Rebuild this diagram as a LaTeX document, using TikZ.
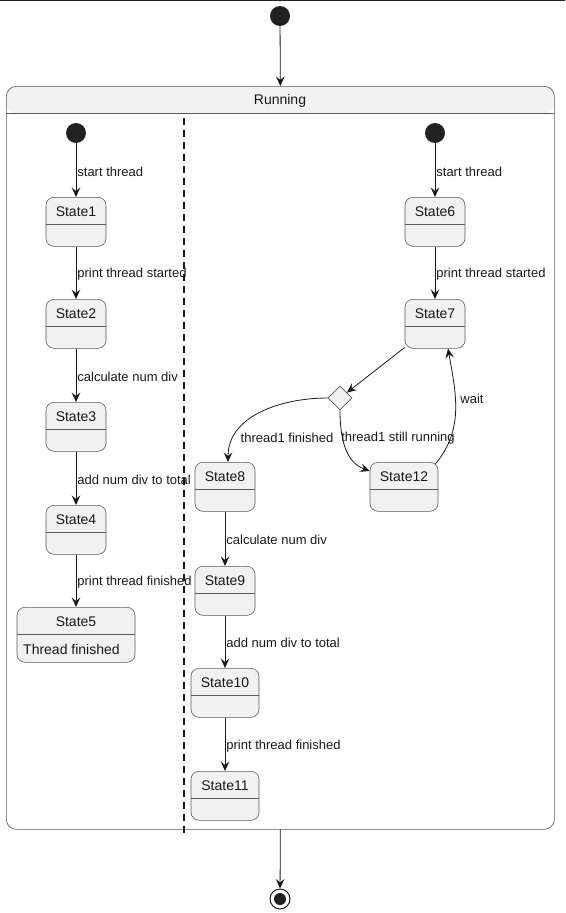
\documentclass[tikz,border=0pt]{standalone}
\usepackage{fontspec}
\setmainfont{Liberation Sans}
\usetikzlibrary{arrows.meta,shapes.geometric}
\definecolor{fillc}{HTML}{F1F1F1}
\definecolor{linec}{HTML}{181818}
\definecolor{boxc}{HTML}{5A5A5A}
\definecolor{dotc}{HTML}{222222}
\begin{document}
\begin{tikzpicture}[x=1pt,y=-1pt,
  statebox/.style={draw=boxc, fill=fillc, rounded corners=8pt, line width=0.6pt,
    minimum width=#1, inner xsep=0pt, inner ysep=4pt, text height=15pt, text depth=26pt,
    anchor=north, font=\fontsize{14}{16}\selectfont, text=linec,
    path picture={\draw[boxc,line width=0.6pt] ([yshift=-27pt]path picture bounding box.north west) -- ([yshift=-27pt]path picture bounding box.north east);}},
  startdot/.style={circle, fill=dotc, minimum size=20pt, inner sep=0pt},
  enddot/.style={circle, draw=linec, line width=1pt, fill=white, minimum size=20pt, inner sep=0pt,
    path picture={\fill[dotc] (path picture bounding box.center) circle (6pt);}},
  choice/.style={diamond, aspect=1, draw=boxc, fill=fillc, line width=0.6pt, minimum size=24pt, inner sep=0pt},
  trans/.style={draw=linec, line width=0.8pt, -{Stealth[length=9.5pt,width=8.5pt,inset=3.5pt]}},
  lbl/.style={font=\fontsize{13}{15}\selectfont, text=linec, inner sep=1pt},
  lblr/.style={lbl, anchor=west, yshift=-1.5pt},
  lanesep/.style={draw=linec, line width=1.3pt, dash pattern=on 7pt off 5pt},
]
\useasboundingbox (0,0) rectangle (565,913);
% top border line
\coordinate (tl) at (0,0.6);
\coordinate (tr) at (565,0.6);
\draw[dotc, line width=1.2pt] (tl) -- (tr);

% outer state
\node[draw=boxc, line width=0.7pt, rounded corners=10pt, minimum width=548pt, minimum height=743pt,
  anchor=north west, inner sep=0pt,
  path picture={\fill[fillc] (path picture bounding box.north west) rectangle ([yshift=-27pt]path picture bounding box.north east);
   \draw[boxc,line width=0.6pt] ([yshift=-27pt]path picture bounding box.north west) -- ([yshift=-27pt]path picture bounding box.north east);}]
  (run) at (6,86) {};
\node[font=\fontsize{14}{16}\selectfont, text=linec] (runlbl) at (280,101) {Running};

\coordinate (sepa) at (184,118);
\coordinate (sepb) at (184,834);
\draw[lanesep] (sepa) -- (sepb);

\node[startdot] (i0) at (280,16) {};
\node[enddot] (fin) at (280,899) {};
\draw[trans] (i0) -- (run.north);
\draw[trans] (run.south) -- (fin);

% left lane
\node[startdot] (i1) at (76,133) {};
\node[statebox=60pt] (s1) at (76,197) {State1};
\node[statebox=60pt] (s2) at (76,299) {State2};
\node[statebox=60pt] (s3) at (76,402) {State3};
\node[statebox=60pt] (s4) at (76,505) {State4};
\node[statebox=118pt, text depth=32pt] (s5) at (76,607) {State5};
\node[font=\fontsize{14}{16}\selectfont, text=linec, anchor=west, inner sep=0pt] (s5t) at (23,649) {Thread finished};

\draw[trans] (i1) -- node[lblr] {start thread} (s1);
\draw[trans] (s1) -- node[lblr] {print thread started} (s2);
\draw[trans] (s2) -- node[lblr] {calculate num div} (s3);
\draw[trans] (s3) -- node[lblr] {add num div to total} (s4);
\draw[trans] (s4) -- node[lblr] {print thread finished} (s5);

% right lane
\node[startdot] (i2) at (435,133) {};
\node[statebox=60pt] (s6) at (435,197) {State6};
\node[statebox=60pt] (s7) at (435,299) {State7};
\node[choice] (d) at (340,398) {};
\node[statebox=60pt] (s8) at (225,462) {State8};
\node[statebox=68pt] (s12) at (404,462) {State12};
\node[statebox=60pt] (s9) at (225,566) {State9};
\node[statebox=68pt] (s10) at (225,668) {State10};
\node[statebox=68pt] (s11) at (225,771) {State11};

\draw[trans] (i2) -- node[lblr] {start thread} (s6);
\draw[trans] (s6) -- node[lblr] {print thread started} (s7);
\draw[trans] (s7) -- (d);
\draw[trans] (d.west) to[out=180,in=90] ([xshift=3pt]s8.north);
\draw[trans] (d.south) to[out=-90,in=160] ([yshift=-9pt]s12.north west);
\draw[trans] ([xshift=-3pt,yshift=-2pt]s12.north east) to[out=50,in=-80] ([xshift=13pt]s7.south);
\node[lbl] (l1) at (287,438) {thread1 finished};
\node[lbl] (l2) at (398,438) {thread1 still running};
\node[lbl] (l3) at (472,399) {wait};

\draw[trans] (s8) -- node[lblr] {calculate num div} (s9);
\draw[trans] (s9) -- node[lblr] {add num div to total} (s10);
\draw[trans] (s10) -- node[lblr] {print thread finished} (s11);
\end{tikzpicture}
\end{document}
